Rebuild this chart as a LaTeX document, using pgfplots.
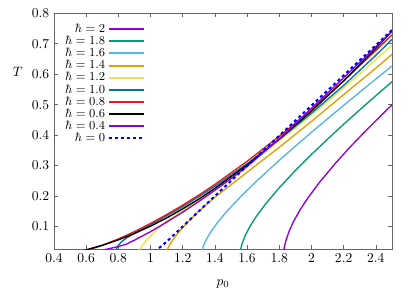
\documentclass[border=0pt]{standalone}
\usepackage{pgfplots}
\pgfplotsset{compat=1.18}
\definecolor{gpPurple}{RGB}{148,0,211}
\definecolor{gpGreen}{RGB}{0,158,115}
\definecolor{gpSky}{RGB}{86,180,233}
\definecolor{gpOrange}{RGB}{230,159,0}
\definecolor{gpYellow}{RGB}{240,228,66}
\definecolor{gpBlue}{RGB}{0,114,178}
\definecolor{gpRed}{RGB}{229,30,16}
\begin{document}
\begin{tikzpicture}
\begin{axis}[
  scale only axis, width=249.2pt, height=173.8pt,
  xmin=0.4, xmax=2.5, ymin=0.026, ymax=0.8,
  xtick={0.4,0.6,0.8,1,1.2,1.4,1.6,1.8,2,2.2,2.4},
  ytick={0.1,0.2,0.3,0.4,0.5,0.6,0.7,0.8},
  tick align=inside, major tick length=3pt,
  axis line style={black!60},
  every tick/.style={black!60},
  xlabel={$p_0$}, ylabel={$T$},
  xlabel style={at={(axis description cs:0.5,0)}, anchor=center, yshift=-25.8pt},
  ylabel style={at={(axis description cs:-0.107,0.75)}, anchor=center, rotate=-90},
  legend cell align=right, legend plot pos=right,
  legend image code/.code={\draw[mark repeat=2,mark phase=2,#1,line width=1.45pt] plot coordinates {(0pt,0pt) (13pt,0pt) (26pt,0pt)};},
  legend style={draw=none, fill=none, font=\small, at={(axis description cs:0.012,0.979)}, anchor=north west, row sep=-2.8pt},
]
\addplot[gpPurple, line width=1pt] coordinates {(1.826,0) (1.827,0.0132) (1.831,0.0302) (1.84,0.0517) (1.86,0.0831) (1.89,0.1179) (1.93,0.1554) (1.98,0.1955) (2.05,0.245) (2.15,0.3083) (2.25,0.3664) (2.35,0.4211) (2.45,0.4736) (2.5,0.4992)};
\addlegendentry{$\hbar = 2$}
\addplot[gpGreen, line width=1pt] coordinates {(1.555,0) (1.556,0.011) (1.56,0.0255) (1.57,0.0455) (1.59,0.0722) (1.62,0.1023) (1.66,0.1352) (1.72,0.1775) (1.8,0.2273) (1.9,0.2839) (2.0,0.3366) (2.1,0.3868) (2.2,0.4357) (2.3,0.4830) (2.4,0.5295) (2.5,0.5752)};
\addlegendentry{$\hbar = 1.8$}
\addplot[gpSky, line width=1pt] coordinates {(1.315,0) (1.316,0.009) (1.32,0.0211) (1.33,0.0379) (1.35,0.0606) (1.38,0.0866) (1.42,0.1155) (1.47,0.1472) (1.55,0.1926) (1.65,0.2446) (1.8,0.3174) (1.9,0.3636) (2.0,0.4092) (2.1,0.4537) (2.2,0.4977) (2.3,0.5411) (2.4,0.5841) (2.5,0.6268)};
\addlegendentry{$\hbar = 1.6$}
\addplot[gpOrange, line width=1pt] coordinates {(1.095,0) (1.096,0.0075) (1.1,0.0168) (1.11,0.0305) (1.13,0.0494) (1.16,0.0714) (1.2,0.0963) (1.25,0.1242) (1.3,0.1501) (1.4,0.196) (1.5,0.237) (1.6,0.278) (1.8,0.36) (2.0,0.445) (2.2,0.533) (2.4,0.62) (2.5,0.665)};
\addlegendentry{$\hbar = 1.4$}
\addplot[gpYellow, line width=1pt] coordinates {(0.915,0) (0.916,0.0055) (0.92,0.0129) (0.93,0.0238) (0.95,0.0392) (0.98,0.0577) (1.02,0.0793) (1.07,0.104) (1.1,0.118) (1.15,0.135) (1.2,0.152) (1.3,0.187) (1.4,0.222) (1.5,0.26) (1.6,0.299) (1.8,0.38) (2.0,0.466) (2.2,0.555) (2.4,0.648) (2.5,0.696)};
\addlegendentry{$\hbar = 1.2$}
\addplot[gpBlue, line width=1pt] coordinates {(0.776,0) (0.778,0.008) (0.78,0.013) (0.785,0.022) (0.79,0.029) (0.8,0.038) (0.82,0.05) (0.85,0.062) (0.9,0.078) (0.95,0.092) (1.0,0.106) (1.1,0.135) (1.2,0.165) (1.3,0.198) (1.4,0.232) (1.6,0.306) (1.8,0.386) (2.0,0.472) (2.2,0.563) (2.4,0.662) (2.5,0.714)};
\addlegendentry{$\hbar = 1.0$}
\addplot[gpRed, line width=1pt] coordinates {(0.55,0.012) (0.6,0.020) (0.65,0.029) (0.7,0.038) (0.8,0.059) (0.9,0.083) (1.0,0.110) (1.1,0.139) (1.2,0.170) (1.3,0.203) (1.4,0.238) (1.6,0.314) (1.8,0.396) (2.0,0.484) (2.2,0.578) (2.4,0.678) (2.5,0.729)};
\addlegendentry{$\hbar = 0.8$}
\addplot[black, line width=1pt] coordinates {(0.55,0.016) (0.6,0.023) (0.65,0.031) (0.7,0.038) (0.8,0.056) (0.9,0.077) (1.0,0.101) (1.1,0.128) (1.2,0.158) (1.3,0.19) (1.4,0.225) (1.6,0.302) (1.8,0.387) (2.0,0.479) (2.2,0.578) (2.4,0.685) (2.5,0.741)};
\addlegendentry{$\hbar = 0.6$}
\addplot[gpPurple, line width=1pt] coordinates {(0.7,0.022) (0.75,0.028) (0.8,0.034) (0.85,0.042) (0.9,0.055) (1.0,0.083) (1.1,0.114) (1.2,0.147) (1.3,0.182) (1.4,0.219) (1.5,0.257) (1.6,0.297) (1.8,0.388) (2.0,0.488) (2.2,0.588) (2.4,0.69) (2.5,0.741)};
\addlegendentry{$\hbar = 0.4$}
\addplot[blue, line width=1.5pt, dash pattern=on 2.2pt off 2.2pt] coordinates {(1.005,0) (1.01,0.008) (1.02,0.014) (1.04,0.023) (1.06,0.032) (1.08,0.041) (1.1,0.05) (1.2,0.1) (1.4,0.2) (1.6,0.299) (1.8,0.398) (2.0,0.497) (2.2,0.596) (2.4,0.695) (2.5,0.745)};
\addlegendentry{$\hbar = 0$}
\end{axis}
\pgfresetboundingbox
\path (-39.8pt,-31pt) rectangle (266.2pt,183.6pt);
\end{tikzpicture}
\end{document}
